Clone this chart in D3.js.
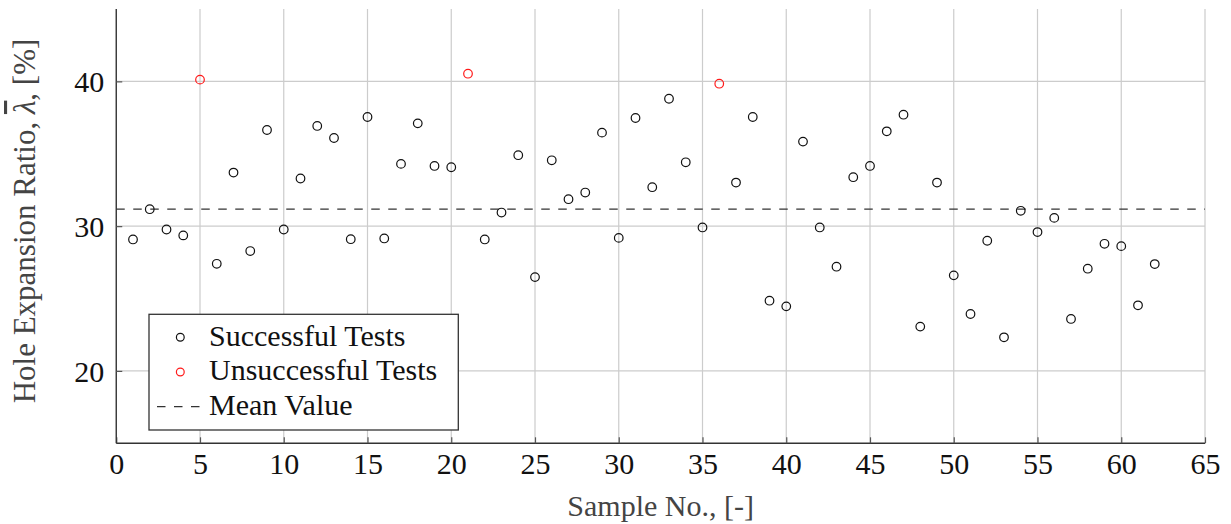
<html>
<head>
<meta charset="utf-8">
<style>
    body { margin: 0; background: #fff; }
    text { font-family: "Liberation Serif", "Times New Roman", serif; }
</style>
</head>

<body>
    <div>
        <svg id="chart"></svg>
    </div>

    <script src="https://d3js.org/d3.v7.min.js" charset="utf-8"></script>
    <script type="text/javascript">
        // values
        sampleNo = [1, 2, 3, 4, 5, 6, 7, 8, 9, 10, 11, 12, 13, 14, 15, 16, 17, 18, 19, 20,
                    21, 22, 23, 24, 25, 26, 27, 28, 29, 30, 31, 32, 33, 34, 35, 36, 37, 38, 39, 40,
                    41, 42, 43, 44, 45, 46, 47, 48, 49, 50, 51, 52, 53, 54, 55, 56, 57, 58, 59, 60,
                    61, 62]
        holeExpansion = [29.08, 31.17, 29.77, 29.36, 40.12, 27.40, 33.70, 28.28, 36.64, 29.77,
                         33.29, 36.92, 36.09, 29.10, 37.54, 29.15, 34.30, 37.10, 34.16, 34.07,
                         40.53, 29.08, 30.94, 34.90, 26.48, 34.55, 31.86, 32.32, 36.46, 29.19,
                         37.47, 32.69, 38.80, 34.41, 29.91, 39.84, 33.01, 37.54, 24.85, 24.46,
                         35.84, 29.91, 27.20, 33.38, 34.16, 36.55, 37.70, 23.06, 33.01, 26.60,
                         23.93, 28.99, 22.32, 31.06, 29.59, 30.57, 23.59, 27.06, 28.78, 28.62,
                         24.53, 27.38]
        failedSamples = [5, 21, 36]   // unsuccessful tests (red)

        xTicks = [0, 5, 10, 15, 20, 25, 30, 35, 40, 45, 50, 55, 60, 65]
        yTicks = [20, 30, 40]
        legendLabels = ['Successful Tests', 'Unsuccessful Tests', 'Mean Value']

        width = 1231
        height = 524
        // note: can't call it "top", window.top is taken
        plotLeft = 116.25, plotRight = 1205, plotTop = 9, plotBottom = 443.3

        svg = d3.select('#chart')
                .attr('width', width)
                .attr('height', height)

        x = d3.scaleLinear().domain([0, 65]).range([plotLeft, plotRight])
        y = d3.scaleLinear().domain([15, 45]).range([plotBottom, plotTop])

        points = sampleNo.map(function(d, i) {
            return { n: d, v: holeExpansion[i], failed: failedSamples.indexOf(d) >= 0 }
        })
        // mean line = mean of the successful tests only
        meanValue = d3.mean(points.filter(function(d) { return !d.failed }), function(d) { return d.v })

        // grid
        svg.append('g').selectAll('line').data(xTicks.slice(1)).enter().append('line')
            .attr('x1', function(d) { return x(d) }).attr('x2', function(d) { return x(d) })
            .attr('y1', plotTop).attr('y2', plotBottom)
            .attr('stroke', '#cccccc').attr('stroke-width', 1.2)
        svg.append('g').selectAll('line').data(yTicks).enter().append('line')
            .attr('x1', plotLeft).attr('x2', plotRight)
            .attr('y1', function(d) { return y(d) }).attr('y2', function(d) { return y(d) })
            .attr('stroke', '#cccccc').attr('stroke-width', 1.2)

        // axes: ticks inward, labels drawn by the axis generator
        xAxis = d3.axisBottom(x).tickValues(xTicks).tickSize(-6).tickPadding(9)
        gx = svg.append('g').attr('transform', 'translate(0,' + plotBottom + ')').call(xAxis)
        yAxis = d3.axisLeft(y).tickValues(yTicks).tickSize(-6).tickPadding(12)
        gy = svg.append('g').attr('transform', 'translate(' + plotLeft + ',0)').call(yAxis)

        ;[gx, gy].forEach(function(g) {
            g.select('.domain').attr('stroke', '#333').attr('stroke-width', 1.4)
            g.selectAll('.tick line').attr('stroke', '#555').attr('stroke-width', 1.2)
            g.selectAll('.tick text').attr('font-size', 30).attr('fill', '#111')
                .attr('font-family', '"Liberation Serif", serif')
        })
        gx.select('.domain').attr('d', 'M' + plotLeft + ',0H' + plotRight)
        gy.select('.domain').attr('d', 'M0,' + plotTop + 'V' + plotBottom)
        gy.selectAll('.tick text').attr('dy', '0.34em')

        // mean line
        svg.append('line')
            .attr('x1', x(0)).attr('x2', x(65))
            .attr('y1', y(meanValue)).attr('y2', y(meanValue))
            .attr('stroke', '#333').attr('stroke-width', 1.3)
            .attr('stroke-dasharray', '8.5,8.5')

        // the samples
        svg.append('g').selectAll('circle').data(points).enter().append('circle')
            .attr('cx', function(d) { return x(d.n) })
            .attr('cy', function(d) { return y(d.v) })
            .attr('r', 4.3)
            .attr('fill', 'none')
            .attr('stroke', function(d) { return d.failed ? '#ff1a1a' : '#111' })
            .attr('stroke-width', 1.2)

        // axis titles
        svg.append('text')
            .attr('x', (plotLeft + plotRight) / 2).attr('y', 516)
            .attr('text-anchor', 'middle')
            .attr('font-size', 30).attr('fill', '#444')
            .text('Sample No., [-]')

        ylab = svg.append('text')
            .attr('transform', 'translate(35,221) rotate(-90)')
            .attr('text-anchor', 'middle')
            .attr('font-size', 31).attr('fill', '#444')
        ylab.append('tspan').text('Hole Expansion Ratio, ')
        ylab.append('tspan').attr('font-style', 'italic')
            .style('text-decoration', 'overline').text('λ')
        ylab.append('tspan').text(', [%]')

        // legend
        legend = svg.append('g')
        legend.append('rect')
            .attr('x', 149).attr('y', 314.3).attr('width', 309.3).attr('height', 115.7)
            .attr('fill', '#fff').attr('stroke', '#333').attr('stroke-width', 1.3)

        rows = legend.selectAll('g.row').data(legendLabels).enter().append('g')
            .attr('class', 'row')
            .attr('transform', function(d, i) { return 'translate(0,' + (337.3 + i * 34.7) + ')' })
        rows.append('text')
            .attr('x', 209).attr('y', 8.4)
            .attr('font-size', 30).attr('fill', '#111')
            .text(function(d) { return d })
        rows.filter(function(d, i) { return i < 2 }).append('circle')
            .attr('cx', 180.3).attr('cy', 0).attr('r', 3.9)
            .attr('fill', 'none').attr('stroke-width', 1.2)
            .attr('stroke', function(d, i) { return i == 1 ? '#ff1a1a' : '#111' })
        rows.filter(function(d, i) { return i == 2 }).append('line')
            .attr('x1', 157).attr('x2', 200).attr('y1', 0).attr('y2', 0)
            .attr('stroke', '#333').attr('stroke-width', 1.3)
            .attr('stroke-dasharray', '8.5,8.5')
    </script>
</body>
</html>
